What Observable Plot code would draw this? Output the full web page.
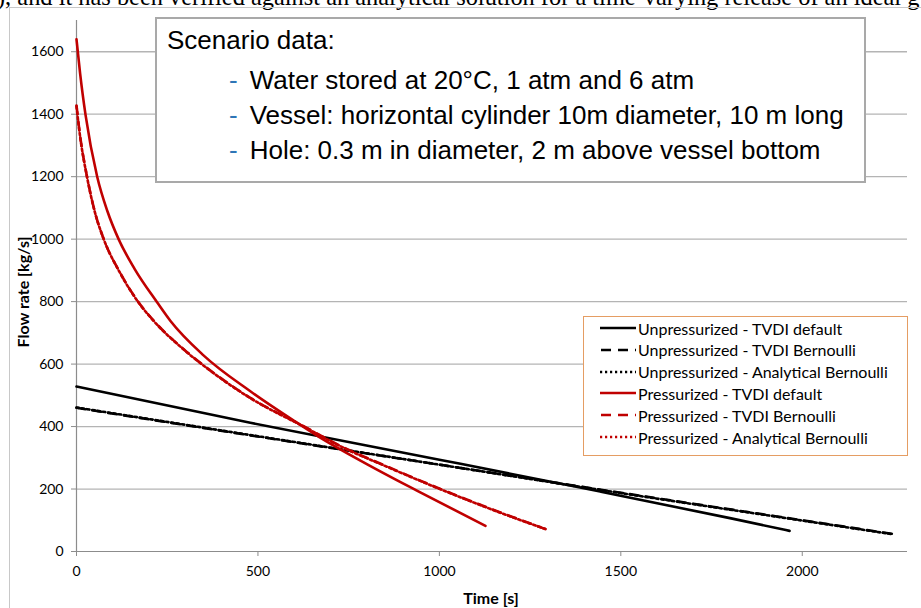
<!DOCTYPE html>
<html><head><meta charset="utf-8">
<script src="https://cdn.jsdelivr.net/npm/d3@7"></script>
<script src="https://cdn.jsdelivr.net/npm/@observablehq/plot@0.6"></script>
<style>
body{margin:0;background:#fff;}
#wrap{position:relative;width:921px;height:608px;overflow:hidden;background:#fff;}
#doc{position:absolute;left:-3px;top:-15.5px;line-height:1;white-space:nowrap;font-family:"Liberation Serif",serif;font-size:24.4px;color:#000;}
#frame{position:absolute;left:9px;top:7px;width:940px;height:640px;border:1.5px solid #c8c8c8;box-sizing:border-box;}
#chart{position:absolute;left:0;top:0;}
#scenario{position:absolute;left:155px;top:17px;width:711px;height:166px;box-sizing:border-box;border:2px solid #a9a9a9;background:#fff;font-family:"Liberation Sans",Arial,sans-serif;color:#000;}
#scenario .h{position:absolute;left:10px;top:6px;font-size:26px;line-height:30px;white-space:nowrap;}
#scenario .b{position:absolute;left:72px;font-size:26px;line-height:30px;white-space:nowrap;}
#scenario .b span{color:#2e75b6;margin-right:12px;}
#legend{position:absolute;left:583px;top:316px;width:325px;height:140px;box-sizing:border-box;border:1.3px solid #e59d63;background:#fff;font-family:Lato,sans-serif;font-size:16px;color:#000;}
#legend .row{position:absolute;left:16px;height:20px;display:flex;align-items:center;white-space:nowrap;}
#legend svg{margin-right:2px;}
.ax{position:absolute;font-family:Lato,sans-serif;font-weight:bold;font-size:16px;color:#000;white-space:nowrap;}
</style></head><body>
<div id="wrap">
  <div id="doc">), and it has been verified against an analytical solution for a time-varying release of an ideal g</div>
  <div id="frame"></div>
  <div id="chart"></div>
  <div class="ax" id="ylab" style="left:22px;top:292px;transform:translate(-50%,-50%) rotate(-90deg);">Flow rate [kg/s]</div>
  <div class="ax" id="xlab" style="left:491px;top:597px;transform:translate(-50%,-50%);">Time [s]</div>
  <div id="scenario">
    <div class="h">Scenario data:</div>
    <div class="b" style="top:46px"><span>-</span>Water stored at 20°C, 1 atm and 6 atm</div>
    <div class="b" style="top:81px"><span>-</span>Vessel: horizontal cylinder 10m diameter, 10 m long</div>
    <div class="b" style="top:116px"><span>-</span>Hole: 0.3 m in diameter, 2 m above vessel bottom</div>
  </div>
  <div id="legend"></div>
</div>
<script>
// Tick values
const xTicks = [0, 500, 1000, 1500, 2000];
const yTicks = [0, 200, 400, 600, 800, 1000, 1200, 1400, 1600];

// Series names
const seriesNames = [
  "Unpressurized - TVDI default",
  "Unpressurized - TVDI Bernoulli",
  "Unpressurized - Analytical Bernoulli",
  "Pressurized - TVDI default",
  "Pressurized - TVDI Bernoulli",
  "Pressurized - Analytical Bernoulli"
];

// Unpressurized - TVDI default
const tUnpDefault = [0, 479, 1000, 1443, 1804, 1965];
const qUnpDefault = [528, 412, 294, 192, 106, 66];
// Unpressurized - TVDI Bernoulli
const tUnpBern = [0, 500, 1000, 1500, 2000, 2250];
const qUnpBern = [460, 368, 278, 188, 100, 56];
// Unpressurized - Analytical Bernoulli
const tUnpAnal = [0, 500, 1000, 1500, 2000, 2250];
const qUnpAnal = [461, 369, 278, 187, 99, 55];
// Pressurized - TVDI default
const tPrDefault = [0, 10, 25, 57, 85, 116, 160, 222, 259, 350, 479, 600, 667, 800, 938, 1127];
const qPrDefault = [1640, 1530, 1397, 1200, 1090, 1000, 905, 798, 738, 628, 513, 418, 368, 280, 195, 82];
// Pressurized - TVDI Bernoulli
const tPrBern = [0, 10, 29, 50, 75, 120, 171, 212, 300, 380, 479, 631, 727, 850, 993, 1150, 1292];
const qPrBern = [1428, 1330, 1200, 1090, 1000, 893, 798, 740, 643, 570, 492, 398, 338, 275, 205, 133, 72];
// Pressurized - Analytical Bernoulli
const tPrAnal = [0, 10, 29, 50, 75, 120, 171, 212, 300, 380, 479, 631, 727, 850, 993, 1150, 1292];
const qPrAnal = [1425, 1328, 1199, 1089, 1000, 892, 797, 739, 642, 569, 491, 397, 337, 274, 204, 132, 72];

const seriesData = [
  [tUnpDefault, qUnpDefault], [tUnpBern, qUnpBern], [tUnpAnal, qUnpAnal],
  [tPrDefault, qPrDefault], [tPrBern, qPrBern], [tPrAnal, qPrAnal]
];
const styles = [
  {stroke:"#000000", dash:null},
  {stroke:"#000000", dash:"9,7"},
  {stroke:"#000000", dash:"2.5,2.833"},
  {stroke:"#c00000", dash:null},
  {stroke:"#c00000", dash:"9,7"},
  {stroke:"#c00000", dash:"2.5,2.833"}
];

const lineMarks = seriesData.map(([t, q], i) => {
  const rows = t.map((x, j) => ({t: x, q: q[j]}));
  const o = {x: "t", y: "q", stroke: styles[i].stroke, strokeWidth: 2.6, curve: "monotone-x"};
  if (styles[i].dash) o.strokeDasharray = styles[i].dash;
  return Plot.line(rows, o);
});

const chart = Plot.plot({
  width: 921, height: 608,
  marginLeft: 76, marginRight: 14, marginTop: 20, marginBottom: 57,
  style: {fontFamily: "Lato, sans-serif", fontSize: "14px", background: "transparent", overflow: "visible"},
  x: {domain: [0, 2290]},
  y: {domain: [0, 1700]},
  marks: [
    Plot.gridY(yTicks.filter(d => d > 0), {stroke: "#b4b4b4", strokeOpacity: 1, strokeWidth: 1.3}),
    Plot.axisX({ticks: xTicks, tickSize: 5, tickPadding: 10, stroke: "#8c8c8c", fill: "#000", label: null, tickFormat: d => String(d)}),
    Plot.axisY({ticks: yTicks, tickSize: 5, tickPadding: 8, stroke: "#8c8c8c", fill: "#000", label: null, tickFormat: d => String(d)}),
    Plot.ruleX([0], {stroke: "#8c8c8c", strokeWidth: 1.2}),
    Plot.ruleY([0], {stroke: "#8c8c8c", strokeWidth: 1.2}),
    ...lineMarks
  ]
});
document.getElementById("chart").appendChild(chart);

// Legend
const leg = document.getElementById("legend");
seriesNames.forEach((name, i) => {
  const row = document.createElement("div");
  row.className = "row";
  row.style.top = (1 + i * 21.8) + "px";
  const dash = styles[i].dash ? (styles[i].dash === "9,7" ? "10,7" : "2.2,2.8") : "none";
  row.innerHTML = `<svg width="36" height="6"><line x1="0" y1="3" x2="36" y2="3" stroke="${styles[i].stroke}" stroke-width="2.6" stroke-dasharray="${dash}" stroke-dashoffset="${dash==='10,7'?-1:0}"/></svg>${name}`;
  leg.appendChild(row);
});
</script>
</body></html>
